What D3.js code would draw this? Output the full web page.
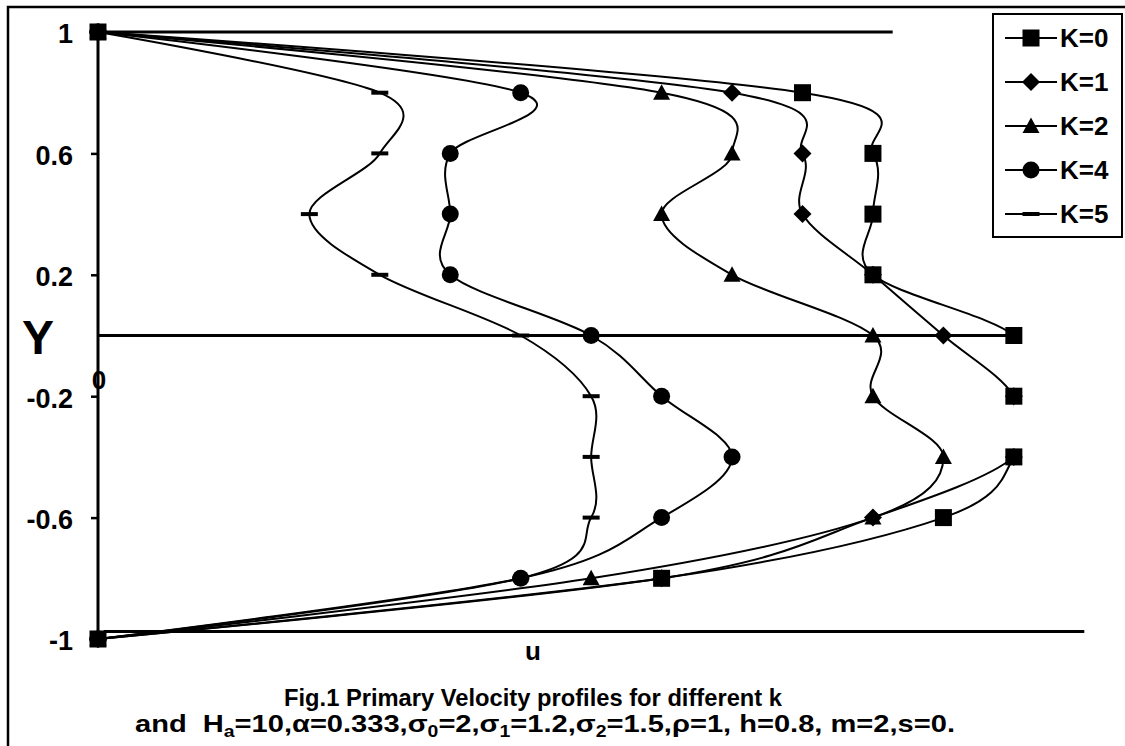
<!DOCTYPE html>
<html>
<head>
<meta charset="utf-8">
<script src="https://cdn.jsdelivr.net/npm/d3@7"></script>
<style>
  body { margin: 0; background: #fff; }
  text { font-family: "Liberation Sans", Arial, sans-serif; font-weight: bold; fill: #000; }
</style>
</head>
<body>
<svg id="chart"></svg>
<script>
// Width and height of the page
var width = 1125, height = 746;

// Y positions across the channel (one row per point)
var yLevels = [1, 0.8, 0.6, 0.4, 0.2, 0, -0.2, -0.4, -0.6, -0.8, -1];

// Primary velocity u for each K
var uK0 = [0, 1.0, 1.1, 1.1, 1.1, 1.3, 1.3, 1.3, 1.2, 0.8, 0];
var uK1 = [0, 0.9, 1.0, 1.0, 1.1, 1.2, 1.3, 1.3, 1.1, 0.8, 0];
var uK2 = [0, 0.8, 0.9, 0.8, 0.9, 1.1, 1.1, 1.2, 1.1, 0.7, 0];
var uK4 = [0, 0.6, 0.5, 0.5, 0.5, 0.7, 0.8, 0.9, 0.8, 0.6, 0];
var uK5 = [0, 0.4, 0.4, 0.3, 0.4, 0.6, 0.7, 0.7, 0.7, 0.6, 0];

var seriesNames = ["K=0", "K=1", "K=2", "K=4", "K=5"];
var seriesMarkers = ["square", "diamond", "triangle", "circle", "dash"];

// Y tick labels
var yTicks = [1, 0.6, 0.2, -0.2, -0.6, -1];

// the straight reference lines of the drawing (y, from u, to u)
var refY = [1, 0, -0.975];
var refU0 = [0, 0, 0.008];
var refU1 = [1.128, 1.3, 1.4];

var svg = d3.select("#chart")
  .attr("width", width)
  .attr("height", height);

var x = d3.scaleLinear().domain([0, 1.4]).range([98, 1084.3]);
var y = d3.scaleLinear().domain([-1, 1]).range([639, 32]);

// outer frame
svg.append("rect")
  .attr("x", 8).attr("y", 7)
  .attr("width", 1130).attr("height", 760)
  .attr("fill", "none").attr("stroke", "#000").attr("stroke-width", 2.5);

// reference lines
refY.forEach(function(v, i) {
  svg.append("line")
    .attr("x1", x(refU0[i])).attr("x2", x(refU1[i]))
    .attr("y1", y(v)).attr("y2", y(v))
    .attr("stroke", "#000").attr("stroke-width", 3);
});

// y axis
var yAxis = d3.axisLeft(y).tickValues(yTicks).tickSize(7).tickFormat(function(d) { return String(d); });
var ga = svg.append("g").attr("transform", "translate(" + x(0) + ",0)").call(yAxis);
ga.select(".domain").attr("stroke-width", 3).attr("d", "M0," + y(1) + "V" + y(-1));
ga.selectAll(".tick line").attr("stroke-width", 2.5);
ga.selectAll(".tick text")
  .attr("x", -25).attr("dy", "0.4em")
  .style("font-size", "27px").style("font-family", "Liberation Sans, Arial, sans-serif")
  .style("font-weight", "bold");

// axis titles
svg.append("text").attr("x", 38).attr("y", 354).attr("text-anchor", "middle")
  .style("font-size", "48px").text("Y");
svg.append("text").attr("x", 99).attr("y", 389).attr("text-anchor", "middle")
  .style("font-size", "26px").text("0");
svg.append("text").attr("x", 533).attr("y", 660).attr("text-anchor", "middle")
  .style("font-size", "26px").text("u");

// captions
svg.append("text").attr("x", 533).attr("y", 706).attr("text-anchor", "middle")
  .attr("textLength", 498).attr("lengthAdjust", "spacingAndGlyphs")
  .style("font-size", "23px").text("Fig.1 Primary Velocity profiles for different k");

var cap = svg.append("text").attr("x", 545).attr("y", 732).attr("text-anchor", "middle")
  .attr("textLength", 820).attr("lengthAdjust", "spacingAndGlyphs")
  .style("font-size", "24px");
var capParts = [
  ["and\u00a0\u00a0H", 0], ["a", 1], ["=10,\u03b1=0.333,\u03c3", 0], ["0", 1], ["=2,\u03c3", 0], ["1", 1],
  ["=1.2,\u03c3", 0], ["2", 1], ["=1.5,\u03c1=1, h=0.8, m=2,s=0.", 0]
];
capParts.forEach(function(p, i) {
  var prev = i > 0 ? capParts[i - 1][1] : 0;
  var t = cap.append("tspan").text(p[0]);
  t.attr("dy", p[1] && !prev ? 5 : (!p[1] && prev ? -5 : 0));
  if (p[1]) t.style("font-size", "16px");
});

// curves
var allU = [uK0, uK1, uK2, uK4, uK5];
var line = d3.line()
  .x(function(d) { return x(d[0]); })
  .y(function(d) { return y(d[1]); })
  .curve(d3.curveCardinal.tension(0));

// lines are cut at the plot's right edge, as in the original
svg.append("clipPath").attr("id", "plotclip")
  .append("rect").attr("x", 0).attr("y", 0).attr("width", x(1.3) - 0.5).attr("height", height);

var markerPath = {
  square: "M-8.5,-8.5h17v17h-17z",
  diamond: "M0,-9L9,0L0,9L-9,0z",
  triangle: "M0,-8.5L8.5,7L-8.5,7z",
  dash: "M-8.5,-2h17v4h-17z"
};
function drawMarker(g, type, cx, cy) {
  if (type === "circle") {
    g.append("circle").attr("cx", cx).attr("cy", cy).attr("r", 8.5).attr("fill", "#000");
  } else {
    g.append("path").attr("d", markerPath[type])
      .attr("transform", "translate(" + cx + "," + cy + ")").attr("fill", "#000");
  }
}

var plot = svg.append("g");
var curves = plot.append("g").attr("clip-path", "url(#plotclip)");
allU.forEach(function(us, i) {
  var pts = us.map(function(u, j) { return [u, yLevels[j]]; });
  curves.append("path").datum(pts)
    .attr("d", line)
    .attr("fill", "none").attr("stroke", "#000").attr("stroke-width", 2);
});
allU.forEach(function(us, i) {
  var mg = plot.append("g");
  us.forEach(function(u, j) { drawMarker(mg, seriesMarkers[i], x(u), y(yLevels[j])); });
});

// legend
var lg = svg.append("g");
lg.append("rect").attr("x", 993).attr("y", 14).attr("width", 129).attr("height", 223)
  .attr("fill", "#fff").attr("stroke", "#000").attr("stroke-width", 2);
seriesNames.forEach(function(name, i) {
  var ly = 38 + i * 44;
  lg.append("line").attr("x1", 1005).attr("x2", 1057).attr("y1", ly).attr("y2", ly)
    .attr("stroke", "#000").attr("stroke-width", 2);
  drawMarker(lg, seriesMarkers[i], 1031, ly);
  lg.append("text").attr("x", 1060).attr("y", ly + 9).style("font-size", "26px").text(name);
});
</script>
</body>
</html>
